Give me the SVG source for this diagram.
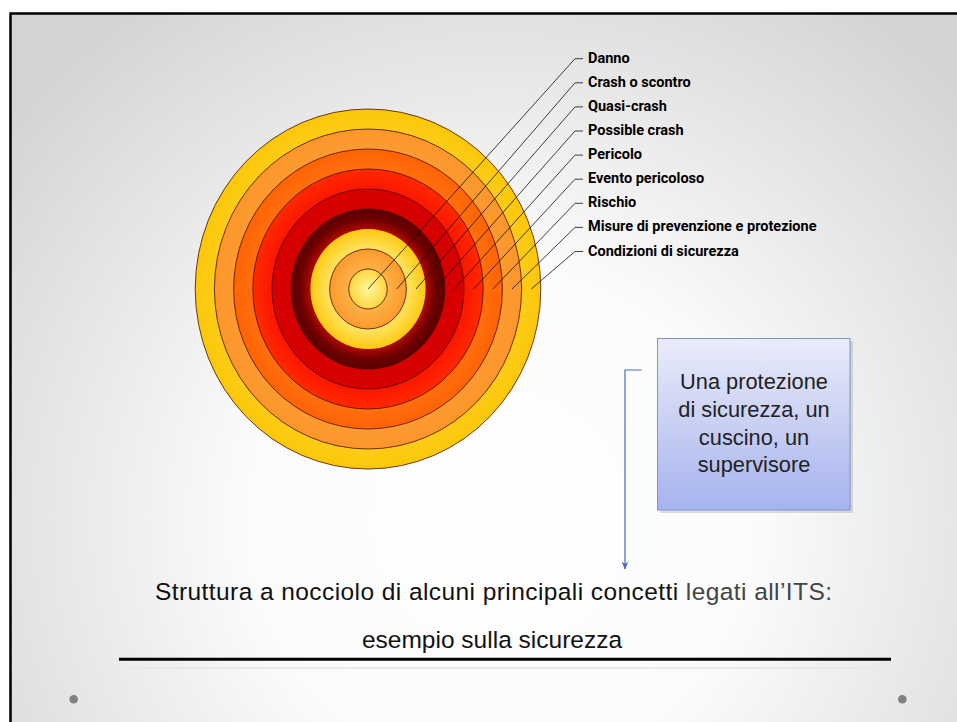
<svg xmlns="http://www.w3.org/2000/svg" width="957" height="722" viewBox="0 0 957 722">
<defs>
  <radialGradient id="bg" gradientUnits="userSpaceOnUse" cx="500" cy="520" r="640">
    <stop offset="0" stop-color="#ffffff"/>
    <stop offset="0.4" stop-color="#fbfbfb"/>
    <stop offset="1" stop-color="#d3d3d3"/>
  </radialGradient>
  <radialGradient id="g9" cx="0.5" cy="0.5" r="0.5"><stop offset="0.85" stop-color="#fdce1e"/><stop offset="1" stop-color="#fcc708"/></radialGradient>
  <radialGradient id="g8" cx="0.5" cy="0.5" r="0.5"><stop offset="0.8" stop-color="#fd9e35"/><stop offset="1" stop-color="#fc962a"/></radialGradient>
  <radialGradient id="g7" cx="0.5" cy="0.5" r="0.5"><stop offset="0.8" stop-color="#ff7412"/><stop offset="1" stop-color="#fe6304"/></radialGradient>
  <radialGradient id="g6" cx="0.5" cy="0.5" r="0.5"><stop offset="0.8" stop-color="#fb1200"/><stop offset="1" stop-color="#ff2a00"/></radialGradient>
  <radialGradient id="g5" cx="0.5" cy="0.5" r="0.5"><stop offset="0.75" stop-color="#d30000"/><stop offset="1" stop-color="#d80000"/></radialGradient>
  <radialGradient id="g4" cx="0.5" cy="0.5" r="0.5"><stop offset="0.74" stop-color="#b30a00"/><stop offset="0.88" stop-color="#6e0000"/><stop offset="1" stop-color="#5a0000"/></radialGradient>
  <radialGradient id="g3" cx="0.5" cy="0.5" r="0.5"><stop offset="0.65" stop-color="#ffe466"/><stop offset="1" stop-color="#fdca12"/></radialGradient>
  <radialGradient id="g2" cx="0.5" cy="0.5" r="0.5"><stop offset="0.5" stop-color="#fdb046"/><stop offset="1" stop-color="#fc9a2c"/></radialGradient>
  <radialGradient id="g1" cx="0.5" cy="0.5" r="0.5"><stop offset="0" stop-color="#fff79a"/><stop offset="1" stop-color="#fdd640"/></radialGradient>
  <linearGradient id="boxg" x1="0" y1="0" x2="0" y2="1">
    <stop offset="0" stop-color="#eaecf9"/>
    <stop offset="1" stop-color="#a6b3ee"/>
  </linearGradient>
  <marker id="arr" viewBox="0 0 10 10" refX="9" refY="5" markerWidth="7" markerHeight="7" orient="auto">
    <path d="M0,1 L10,5 L0,9 L3,5 Z" fill="#4a69bd"/>
  </marker>
  <style>
    .ring { stroke: #4a0d00; stroke-width: 0.8; }
    .lead { fill: none; stroke: #111; stroke-width: 0.8; }
    .lbl { font-family: Roboto, "Liberation Sans", sans-serif; font-weight: bold; font-size: 14.5px; fill: #000; }
    .box { font-family: "Liberation Sans", Arial, sans-serif; font-size: 21.8px; fill: #222; text-anchor: middle; }
    .title { font-family: "Liberation Sans", Arial, sans-serif; font-size: 24.5px; fill: #111; text-anchor: middle; }
  </style>
</defs>

<rect x="0" y="0" width="957" height="722" fill="#ffffff"/>
<rect x="10.5" y="13.5" width="960" height="720" fill="url(#bg)" stroke="#000" stroke-width="2.5"/>

<g id="target">
  <ellipse cx="368" cy="289" rx="172.8" ry="180" fill="url(#g9)" class="ring"/>
  <ellipse cx="368" cy="289" rx="153.6" ry="160" fill="url(#g8)" class="ring"/>
  <ellipse cx="368" cy="289" rx="134.4" ry="140" fill="url(#g7)" class="ring"/>
  <ellipse cx="368" cy="289" rx="115.2" ry="120" fill="url(#g6)" class="ring"/>
  <ellipse cx="368" cy="289" rx="96" ry="100" fill="url(#g5)" class="ring"/>
  <ellipse cx="368" cy="289" rx="76.8" ry="80" fill="url(#g4)" class="ring"/>
  <ellipse cx="368" cy="289" rx="57.6" ry="60" fill="url(#g3)" stroke="none"/>
  <ellipse cx="368" cy="289" rx="38.4" ry="40" fill="url(#g2)" class="ring"/>
  <ellipse cx="368" cy="289" rx="19.2" ry="20" fill="url(#g1)" class="ring"/>
</g>

<g id="connectors">
  <polyline class="lead" points="368,289 575,58.7 583,58.7"/>
  <polyline class="lead" points="396.8,289 575,82.8 583,82.8"/>
  <polyline class="lead" points="416,289 575,106.9 583,106.9"/>
  <polyline class="lead" points="435.2,289 575,131 583,131"/>
  <polyline class="lead" points="454.4,289 575,155.1 583,155.1"/>
  <polyline class="lead" points="473.6,289 575,179.2 583,179.2"/>
  <polyline class="lead" points="492.8,289 575,203.3 583,203.3"/>
  <polyline class="lead" points="512,289 575,227.4 583,227.4"/>
  <polyline class="lead" points="531.2,289 575,251.5 583,251.5"/>
  <polyline points="641.5,370 625,370 625,569" fill="none" stroke="#4a69bd" stroke-width="1.2" marker-end="url(#arr)"/>
</g>

<g id="labels">
  <text class="lbl" x="588" y="62.7">Danno</text>
  <text class="lbl" x="588" y="86.8">Crash o scontro</text>
  <text class="lbl" x="588" y="110.9">Quasi-crash</text>
  <text class="lbl" x="588" y="135">Possible crash</text>
  <text class="lbl" x="588" y="159.1">Pericolo</text>
  <text class="lbl" x="588" y="183.2">Evento pericoloso</text>
  <text class="lbl" x="588" y="207.3">Rischio</text>
  <text class="lbl" x="588" y="231.4">Misure di prevenzione e protezione</text>
  <text class="lbl" x="588" y="255.5">Condizioni di sicurezza</text>
</g>

<g id="callout">
  <rect x="660" y="341" width="193" height="172" fill="#000" opacity="0.12"/>
  <rect x="657.5" y="338.5" width="192.5" height="171.5" fill="url(#boxg)" stroke="#7d93cf" stroke-width="1"/>
  <text class="box" x="754" y="389.3">Una protezione</text>
  <text class="box" x="754" y="417.3">di sicurezza, un</text>
  <text class="box" x="754" y="445">cuscino, un</text>
  <text class="box" x="754" y="471.7">supervisore</text>
</g>

<g id="caption">
  <text class="title" x="493.5" y="600" textLength="677" lengthAdjust="spacing">Struttura a nocciolo di alcuni principali concetti <tspan fill="#444">legati all’ITS:</tspan></text>
  <text class="title" x="492" y="648">esempio sulla sicurezza</text>
  <line x1="119" y1="659.3" x2="891" y2="659.3" stroke="#000" stroke-width="3"/>
  <line x1="125" y1="668" x2="900" y2="668" stroke="#e8e8f0" stroke-width="2"/>
  <circle cx="73.7" cy="699.3" r="4.3" fill="#808080"/>
  <circle cx="902.3" cy="699.3" r="4.3" fill="#808080"/>
</g>
</svg>
